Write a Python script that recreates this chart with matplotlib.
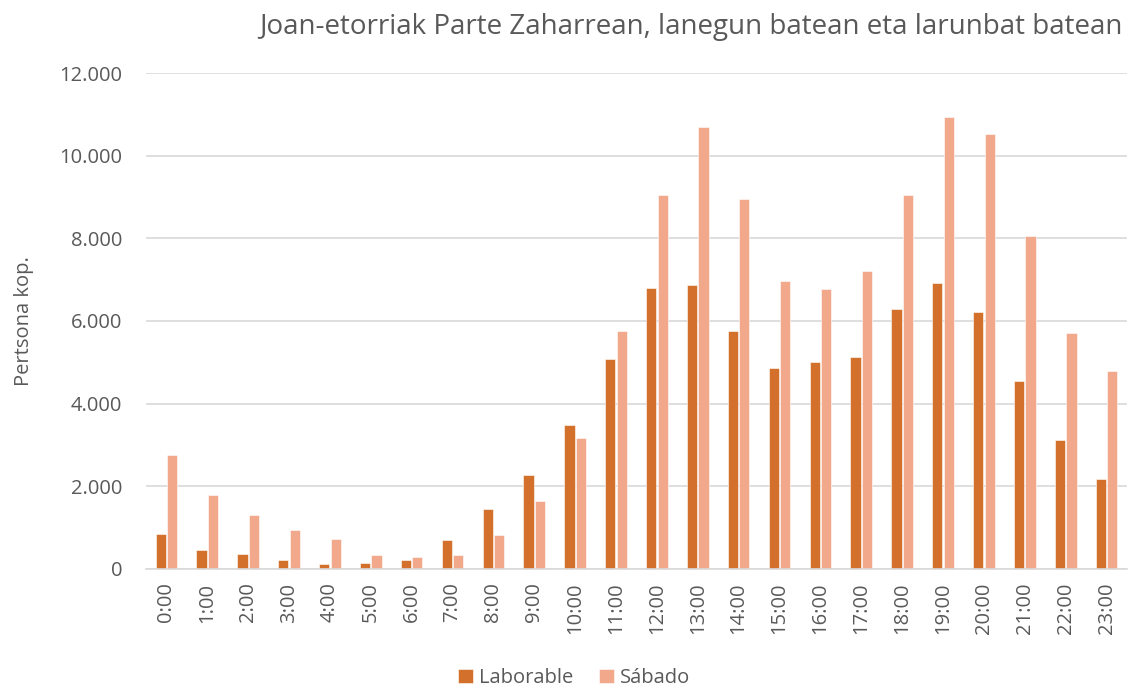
import numpy as np
import matplotlib
matplotlib.use('Agg')
import matplotlib.pyplot as plt
from matplotlib.ticker import FuncFormatter

# datuak
hours = ['%d:00' % h for h in range(24)]
laborable = [830, 450, 350, 200, 110, 130, 200, 690, 1440, 2260,
             3470, 5080, 6790, 6880, 5760, 4850, 5010, 5130, 6300, 6920,
             6215, 4540, 3120, 2170]
sabado = [2750, 1790, 1300, 930, 710, 330, 275, 330, 810, 1650,
          3160, 5765, 9060, 10710, 8960, 6970, 6780, 7220, 9050, 10940,
          10520, 8050, 5720, 4790]

plt.rcParams['font.family'] = ['Open Sans', 'DejaVu Sans']
txt = '#595959'

fig = plt.figure(figsize=(11.28, 6.88), dpi=100)
ax = fig.add_axes([0.1294, 0.1734, 0.8697, 0.7201])

x = np.arange(len(hours))
w = 0.25
ax.bar(x - 0.14, laborable, w, color='#D3702C', edgecolor='white', linewidth=0.4,
       label='Laborable', zorder=3)
ax.bar(x + 0.14, sabado, w, color='#F2A98B', edgecolor='white', linewidth=0.4,
       label='Sábado', zorder=3)

ax.set_xlim(-0.5, 23.5)
ax.set_ylim(0, 12000)
ax.set_yticks(range(0, 12001, 2000))
ax.yaxis.set_major_formatter(FuncFormatter(lambda v, p: '{:,.0f}'.format(v).replace(',', '.')))
ax.set_xticks(x)
ax.set_xticklabels(hours, rotation=90)
ax.tick_params(axis='both', length=0, colors=txt, labelsize=14.5)
ax.tick_params(axis='y', pad=17)
ax.tick_params(axis='x', pad=10)

ax.grid(axis='y', color='#d9d9d9', linewidth=1.2, zorder=0)
for s in ['top', 'right', 'left']:
    ax.spines[s].set_visible(False)
ax.spines['bottom'].set_color('#d9d9d9')
ax.spines['bottom'].set_linewidth(1.2)
ax.spines['bottom'].set_zorder(4)

ax.set_ylabel('Pertsona kop.', color=txt, fontsize=14.5, labelpad=18)

fig.text(0.6125, 0.961, 'Joan-etorriak Parte Zaharrean, lanegun batean eta larunbat batean',
         ha='center', va='center', color=txt, fontsize=20)

fig.legend(loc='center', bbox_to_anchor=(0.509, 0.0145), ncol=2, frameon=False,
           fontsize=14.5, labelcolor=txt, handlelength=0.75, handleheight=0.75,
           handletextpad=0.3, columnspacing=1.3)

fig.savefig('out.png', dpi=100)
